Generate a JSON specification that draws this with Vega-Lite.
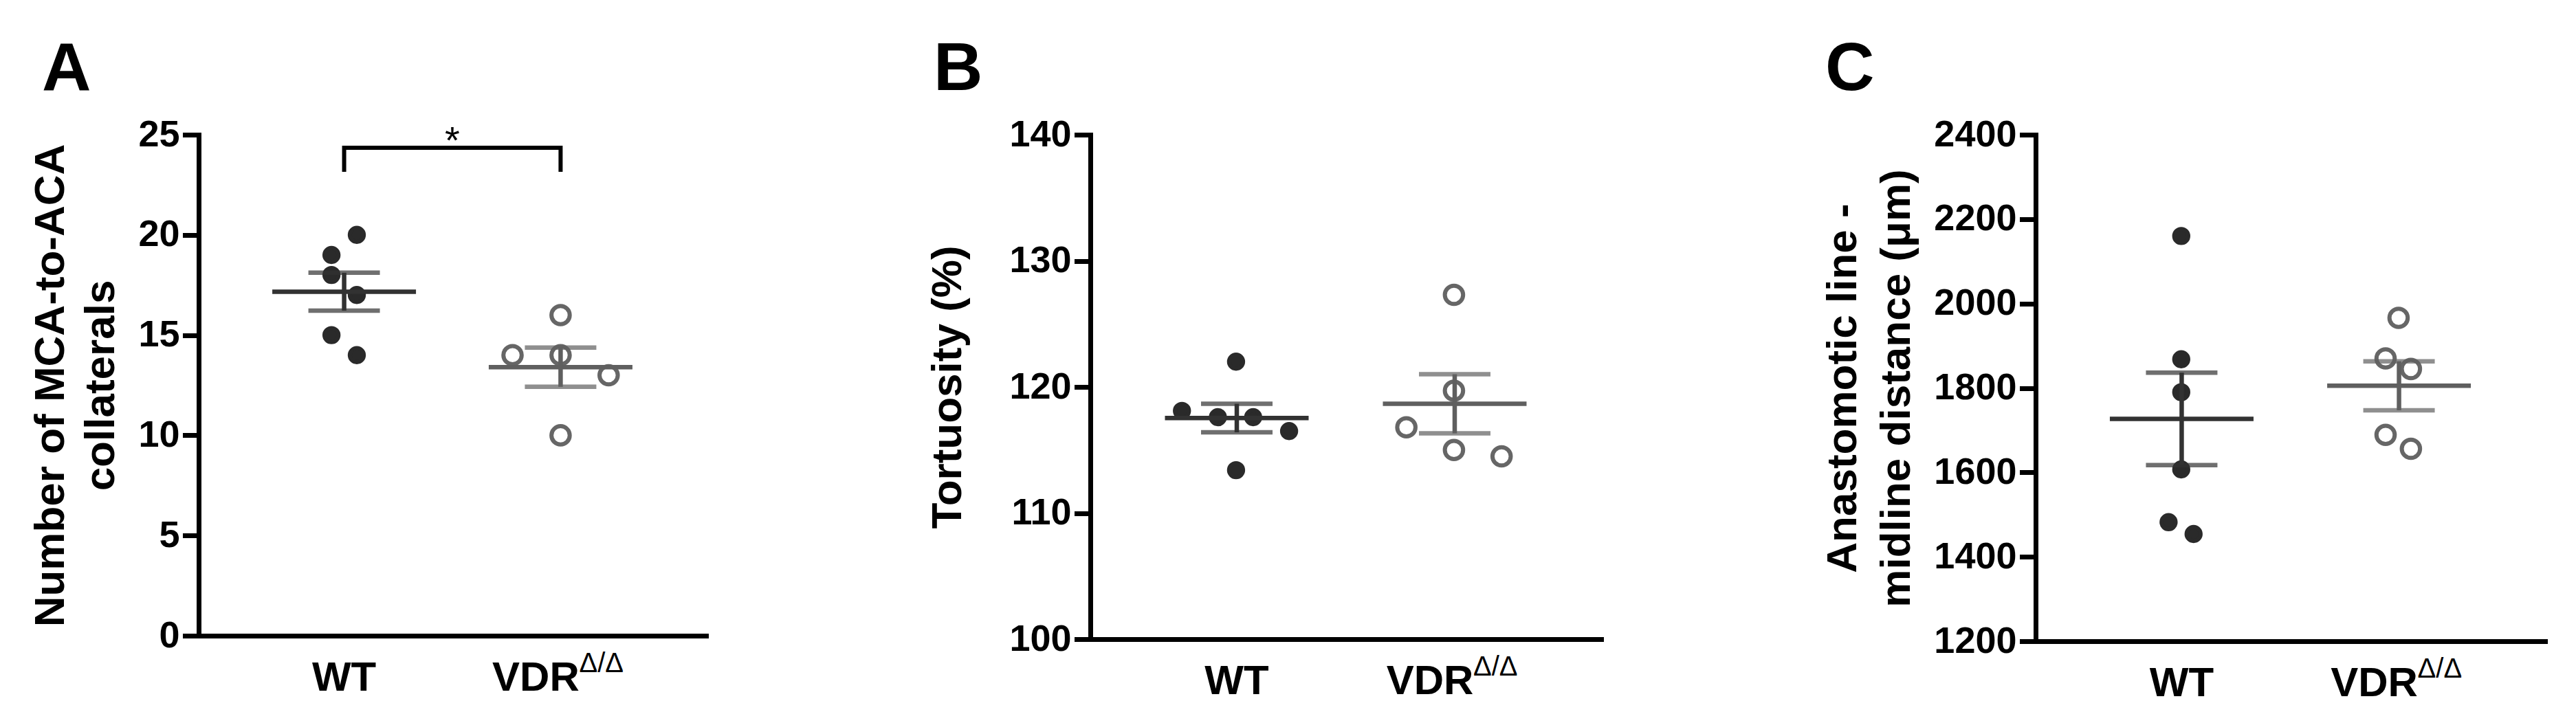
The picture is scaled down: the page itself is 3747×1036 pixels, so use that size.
{
  "$schema": "https://vega.github.io/schema/vega-lite/v6.json",
  "description": "Collaterals, tortuosity and anastomotic line distance in WT vs VDR mice (mean +/- SEM).",
  "background": "white",
  "padding": {"left": 42, "top": 52, "right": 20, "bottom": 4},
  "spacing": 320,
  "datasets": {
    "collat": [
      {"group": "WT", "value": 20, "jitter": 0.117},
      {"group": "WT", "value": 19, "jitter": -0.117},
      {"group": "WT", "value": 18, "jitter": -0.117},
      {"group": "WT", "value": 17, "jitter": 0.117},
      {"group": "WT", "value": 15, "jitter": -0.117},
      {"group": "WT", "value": 14, "jitter": 0.117},
      {"group": "VDR", "value": 16, "jitter": 0},
      {"group": "VDR", "value": 14, "jitter": -0.444},
      {"group": "VDR", "value": 14, "jitter": 0},
      {"group": "VDR", "value": 13, "jitter": 0.444},
      {"group": "VDR", "value": 10, "jitter": 0}
    ],
    "tort": [
      {"group": "WT", "value": 122.0, "jitter": 0},
      {"group": "WT", "value": 118.1, "jitter": -0.5},
      {"group": "WT", "value": 117.6, "jitter": -0.168},
      {"group": "WT", "value": 117.6, "jitter": 0.158},
      {"group": "WT", "value": 116.5, "jitter": 0.49},
      {"group": "WT", "value": 113.4, "jitter": 0},
      {"group": "VDR", "value": 127.3, "jitter": 0},
      {"group": "VDR", "value": 119.7, "jitter": 0},
      {"group": "VDR", "value": 116.8, "jitter": -0.44},
      {"group": "VDR", "value": 115.0, "jitter": 0},
      {"group": "VDR", "value": 114.5, "jitter": 0.44}
    ],
    "dist": [
      {"group": "WT", "value": 2160, "jitter": 0},
      {"group": "WT", "value": 1868, "jitter": 0},
      {"group": "WT", "value": 1790, "jitter": 0},
      {"group": "WT", "value": 1607, "jitter": 0},
      {"group": "WT", "value": 1482, "jitter": -0.117},
      {"group": "WT", "value": 1454, "jitter": 0.114},
      {"group": "VDR", "value": 1966, "jitter": 0},
      {"group": "VDR", "value": 1870, "jitter": -0.12},
      {"group": "VDR", "value": 1845, "jitter": 0.114},
      {"group": "VDR", "value": 1689, "jitter": -0.12},
      {"group": "VDR", "value": 1656, "jitter": 0.114}
    ],
    "bracket": [
      {"group": "WT", "value": 23.15, "ord": 1},
      {"group": "WT", "value": 24.35, "ord": 2},
      {"group": "VDR", "value": 24.35, "ord": 3},
      {"group": "VDR", "value": 23.15, "ord": 4}
    ],
    "star": [{"group": "VDR", "value": 24.35, "label": "*"}],
    "supA": [{"group": "VDR", "value": 0, "label": "Δ/Δ"}],
    "supB": [{"group": "VDR", "value": 100, "label": "Δ/Δ"}],
    "supC": [{"group": "VDR", "value": 1200, "label": "Δ/Δ"}]
  },
  "config": {
    "view": {"stroke": null},
    "font": "Liberation Sans",
    "axis": {
      "grid": false,
      "domainColor": "black",
      "domainWidth": 7,
      "domainCap": "square",
      "labelFont": "Liberation Sans",
      "labelFontWeight": "bold",
      "labelColor": "black",
      "titleFont": "Liberation Sans",
      "titleFontWeight": "bold",
      "titleFontSize": 62,
      "titleColor": "black"
    },
    "axisX": {
      "ticks": false,
      "tickSize": 0,
      "labelAngle": 0,
      "labelFontSize": 60,
      "labelPadding": 32,
      "title": null,
      "labelOffset": {"condition": {"test": "datum.value === 'VDR'", "value": -36}, "value": 0}
    },
    "axisY": {
      "tickColor": "black",
      "tickWidth": 7,
      "tickSize": 20,
      "tickCap": "square",
      "labelFontSize": 54,
      "labelPadding": 8
    },
    "text": {"font": "Liberation Sans", "color": "black"},
    "title": {
      "anchor": "start",
      "frame": "group",
      "font": "Liberation Sans",
      "fontSize": 99,
      "fontWeight": "bold",
      "color": "black",
      "baseline": "alphabetic",
      "offset": 17
    }
  },
  "hconcat": [
    {
      "title": {"text": "A", "dx": -228},
      "width": 738,
      "height": 729,
      "data": {"name": "collat"},
      "encoding": {
        "x": {"field": "group", "type": "nominal", "sort": ["WT", "VDR"],
              "scale": {"type": "band", "domain": ["WT", "VDR"], "paddingInner": 0, "paddingOuter": 0.172}},
        "y": {"field": "value", "type": "quantitative",
              "scale": {"domain": [0, 25], "nice": false, "zero": false},
              "axis": {"values": [0, 5, 10, 15, 20, 25], "format": "d",
                       "title": ["Number of MCA-to-ACA", "collaterals"],
                       "titlePadding": 22, "titleLineHeight": 73}}
      },
      "layer": [
        {
          "mark": {"type": "point", "shape": "circle", "strokeWidth": 6, "opacity": 1},
          "encoding": {
            "xOffset": {"field": "jitter", "type": "quantitative", "scale": {"domain": [-1, 1]}},
            "fill": {"field": "group", "type": "nominal", "scale": {"domain": ["WT", "VDR"], "range": ["#2a2a2a", "rgba(255,255,255,0)"]}, "legend": null},
            "stroke": {"field": "group", "type": "nominal", "scale": {"domain": ["WT", "VDR"], "range": ["#2a2a2a", "#666666"]}, "legend": null},
            "size": {"field": "group", "type": "nominal", "scale": {"domain": ["WT", "VDR"], "range": [415, 707]}, "legend": null}
          }
        },
        {
          "mark": {"type": "tick", "size": 209, "thickness": 6.5, "opacity": 1},
          "encoding": {
            "y": {"aggregate": "mean", "field": "value", "type": "quantitative"},
            "color": {"field": "group", "type": "nominal", "scale": {"domain": ["WT", "VDR"], "range": ["#323232", "#5f5f5f"]}, "legend": null}
          }
        },
        {
          "mark": {"type": "errorbar", "extent": "stderr", "ticks": true, "size": 104, "thickness": 6.5},
          "encoding": {
            "color": {"field": "group", "type": "nominal", "legend": null}
          }
        },
        {
          "data": {"name": "bracket"},
          "mark": {"type": "line", "color": "black", "strokeWidth": 6, "strokeJoin": "miter", "strokeCap": "butt"},
          "encoding": {
            "order": {"field": "ord", "type": "quantitative"}
          }
        },
        {
          "data": {"name": "star"},
          "mark": {"type": "text", "fontSize": 56, "baseline": "alphabetic", "align": "center", "dy": 8},
          "encoding": {
            "x": {"field": "group", "type": "nominal", "bandPosition": 0},
            "text": {"field": "label"}
          }
        },
        {
          "data": {"name": "supA"},
          "mark": {"type": "text", "fontSize": 40, "align": "left", "baseline": "alphabetic", "dx": 27, "dy": 53},
          "encoding": {
            "x": {"field": "group", "type": "nominal"},
            "text": {"field": "label"}
          }
        }
      ]
    },
    {
      "title": {"text": "B", "dx": -228},
      "width": 743,
      "height": 734,
      "data": {"name": "tort"},
      "encoding": {
        "x": {"field": "group", "type": "nominal", "sort": ["WT", "VDR"],
              "scale": {"type": "band", "domain": ["WT", "VDR"], "paddingInner": 0, "paddingOuter": 0.172}},
        "y": {"field": "value", "type": "quantitative",
              "scale": {"domain": [100, 140], "nice": false, "zero": false},
              "axis": {"values": [100, 110, 120, 130, 140], "format": "d",
                       "title": "Tortuosity (%)", "titlePadding": 57}}
      },
      "layer": [
        {
          "mark": {"type": "point", "shape": "circle", "strokeWidth": 6, "opacity": 1},
          "encoding": {
            "xOffset": {"field": "jitter", "type": "quantitative", "scale": {"domain": [-1, 1]}},
            "fill": {"field": "group", "type": "nominal", "scale": {"domain": ["WT", "VDR"], "range": ["#2a2a2a", "rgba(255,255,255,0)"]}, "legend": null},
            "stroke": {"field": "group", "type": "nominal", "scale": {"domain": ["WT", "VDR"], "range": ["#2a2a2a", "#666666"]}, "legend": null},
            "size": {"field": "group", "type": "nominal", "scale": {"domain": ["WT", "VDR"], "range": [415, 707]}, "legend": null}
          }
        },
        {
          "mark": {"type": "tick", "size": 209, "thickness": 6.5, "opacity": 1},
          "encoding": {
            "y": {"aggregate": "mean", "field": "value", "type": "quantitative"},
            "color": {"field": "group", "type": "nominal", "scale": {"domain": ["WT", "VDR"], "range": ["#323232", "#5f5f5f"]}, "legend": null}
          }
        },
        {
          "mark": {"type": "errorbar", "extent": "stderr", "ticks": true, "size": 104, "thickness": 6.5},
          "encoding": {
            "color": {"field": "group", "type": "nominal", "legend": null}
          }
        },
        {
          "data": {"name": "supB"},
          "mark": {"type": "text", "fontSize": 40, "align": "left", "baseline": "alphabetic", "dx": 27, "dy": 53},
          "encoding": {
            "x": {"field": "group", "type": "nominal"},
            "text": {"field": "label"}
          }
        }
      ]
    },
    {
      "title": {"text": "C", "dx": -306},
      "width": 741,
      "height": 737,
      "data": {"name": "dist"},
      "encoding": {
        "x": {"field": "group", "type": "nominal", "sort": ["WT", "VDR"],
              "scale": {"type": "band", "domain": ["WT", "VDR"], "paddingInner": 0, "paddingOuter": 0.172}},
        "y": {"field": "value", "type": "quantitative",
              "scale": {"domain": [1200, 2400], "nice": false, "zero": false},
              "axis": {"values": [1200, 1400, 1600, 1800, 2000, 2200, 2400], "format": "d",
                       "title": ["Anastomotic line -", "midline distance (μm)"],
                       "titlePadding": 22, "titleLineHeight": 78}}
      },
      "layer": [
        {
          "mark": {"type": "point", "shape": "circle", "strokeWidth": 6, "opacity": 1},
          "encoding": {
            "xOffset": {"field": "jitter", "type": "quantitative", "scale": {"domain": [-1, 1]}},
            "fill": {"field": "group", "type": "nominal", "scale": {"domain": ["WT", "VDR"], "range": ["#2a2a2a", "rgba(255,255,255,0)"]}, "legend": null},
            "stroke": {"field": "group", "type": "nominal", "scale": {"domain": ["WT", "VDR"], "range": ["#2a2a2a", "#666666"]}, "legend": null},
            "size": {"field": "group", "type": "nominal", "scale": {"domain": ["WT", "VDR"], "range": [415, 707]}, "legend": null}
          }
        },
        {
          "mark": {"type": "tick", "size": 209, "thickness": 6.5, "opacity": 1},
          "encoding": {
            "y": {"aggregate": "mean", "field": "value", "type": "quantitative"},
            "color": {"field": "group", "type": "nominal", "scale": {"domain": ["WT", "VDR"], "range": ["#323232", "#5f5f5f"]}, "legend": null}
          }
        },
        {
          "mark": {"type": "errorbar", "extent": "stderr", "ticks": true, "size": 104, "thickness": 6.5},
          "encoding": {
            "color": {"field": "group", "type": "nominal", "legend": null}
          }
        },
        {
          "data": {"name": "supC"},
          "mark": {"type": "text", "fontSize": 40, "align": "left", "baseline": "alphabetic", "dx": 27, "dy": 53},
          "encoding": {
            "x": {"field": "group", "type": "nominal"},
            "text": {"field": "label"}
          }
        }
      ]
    }
  ]
}
